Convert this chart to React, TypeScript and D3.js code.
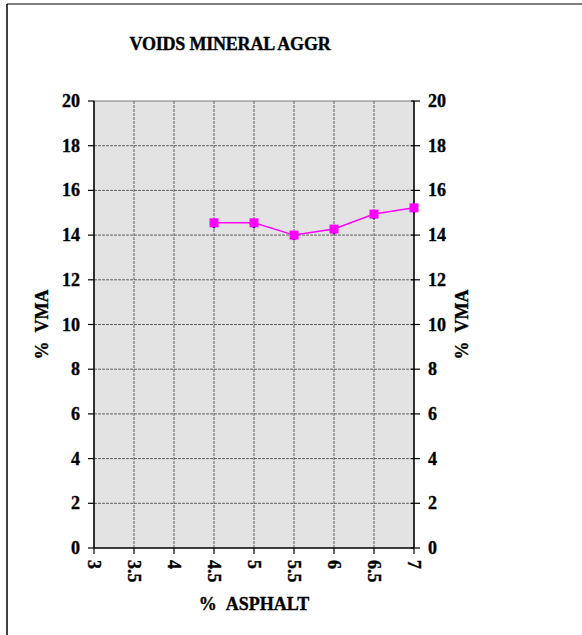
import React from "react";
import * as d3 from "d3";

const asphalt = [4.5, 5, 5.5, 6, 6.5, 7];
const vma = [14.55, 14.55, 14.0, 14.27, 14.94, 15.22];
const vmaBase = [14.42, 14.42, 13.88, 14.15, 14.82, 15.1];
const xTicks = [3, 3.5, 4, 4.5, 5, 5.5, 6, 6.5, 7];
const yTicks = [0, 2, 4, 6, 8, 10, 12, 14, 16, 18, 20];
const title = "VOIDS MINERAL AGGR";
const xTitle = "% ASPHALT";
const yTitle = "% VMA";

const W = 582;
const H = 635;
const L = 94, R = 414, T = 101, B = 548;
const font = "'Liberation Serif', 'Times New Roman', serif";
const FS = 18;
const txt = { fontFamily: font, fontWeight: "bold" as const, fontSize: FS, fill: "#000", stroke: "#000", strokeWidth: 0.35 };

export default function App() {
  const x = d3.scaleLinear().domain([3, 7]).range([L, R]);
  const y = d3.scaleLinear().domain([0, 20]).range([B, T]);
  const line = d3.line<number>().x((_, i) => x(asphalt[i])).y((d) => y(d));
  const pts = asphalt.map((a, i) => ({ a, v: vma[i], b: vmaBase[i] }));
  return (
    <svg width={W} height={H} style={{ position: "absolute", left: 0, top: 0 }}>
      <rect x={0} y={0} width={W} height={H} fill="#fff" />
      <line x1={7} y1={4} x2={W + 5} y2={4} stroke="#555" strokeWidth={1.5} />
      <line x1={7} y1={4} x2={7} y2={H + 5} stroke="#000" strokeWidth={1.5} />
      <text x={230} y={50} textAnchor="middle" {...txt} letterSpacing={-0.2}>
        {title}
      </text>
      <rect x={L} y={T} width={R - L} height={B - T} fill="#e3e3e3" />
      {yTicks.slice(1, -1).map((t) => (
        <line key={"gy" + t} x1={L} x2={R} y1={y(t)} y2={y(t)} stroke="#555" strokeWidth={0.9} strokeDasharray="3,1" />
      ))}
      {xTicks.slice(1, -1).map((t) => (
        <line key={"gx" + t} x1={x(t)} x2={x(t)} y1={T} y2={B} stroke="#555" strokeWidth={0.9} strokeDasharray="3,1" />
      ))}
      <line x1={L} x2={R} y1={T} y2={T} stroke="#777" strokeWidth={1} />
      <line x1={L} x2={L} y1={T} y2={B} stroke="#000" strokeWidth={1.6} />
      <line x1={R} x2={R} y1={T} y2={B} stroke="#000" strokeWidth={1.6} />
      <line x1={L} x2={R} y1={B} y2={B} stroke="#000" strokeWidth={1.6} />
      {yTicks.map((t) => (
        <g key={"ty" + t}>
          <line x1={L - 6} x2={L} y1={y(t)} y2={y(t)} stroke="#000" strokeWidth={1.2} />
          <line x1={R - 3} x2={R + 6} y1={y(t)} y2={y(t)} stroke="#000" strokeWidth={1.2} />
          <text x={80} y={y(t) + 6} textAnchor="end" {...txt}>{t}</text>
          <text x={428} y={y(t) + 6} textAnchor="start" {...txt}>{t}</text>
        </g>
      ))}
      {xTicks.map((t) => (
        <g key={"tx" + t}>
          <line x1={x(t)} x2={x(t)} y1={B} y2={B + 6} stroke="#000" strokeWidth={1.2} />
          <text transform={`translate(${x(t) - 6},${B + 12}) rotate(90)`} textAnchor="start" {...txt}>
            {t}
          </text>
        </g>
      ))}
      <text x={254} y={610} textAnchor="middle" {...txt}>
        {xTitle.replace(" ", "\u00a0\u00a0")}
      </text>
      <text transform={`translate(48,${(T + B) / 2}) rotate(-90)`} textAnchor="middle" {...txt}>
        {yTitle.replace(" ", "\u00a0\u00a0")}
      </text>
      <text transform={`translate(468,${(T + B) / 2}) rotate(-90)`} textAnchor="middle" {...txt}>
        {yTitle.replace(" ", "\u00a0\u00a0")}
      </text>
      {pts.map((p) => (
        <path key={"b" + p.a} d={`M${x(p.a)},${y(p.b) - 3}l3,3l-3,3l-3,-3z`} fill="#000080" />
      ))}
      <path d={line(vma) || ""} fill="none" stroke="#ff00ff" strokeWidth={1.5} />
      {pts.map((p) => (
        <rect key={"m" + p.a} x={x(p.a) - 4.5} y={y(p.v) - 4.5} width={9} height={9} fill="#ff00ff" />
      ))}
    </svg>
  );
}
